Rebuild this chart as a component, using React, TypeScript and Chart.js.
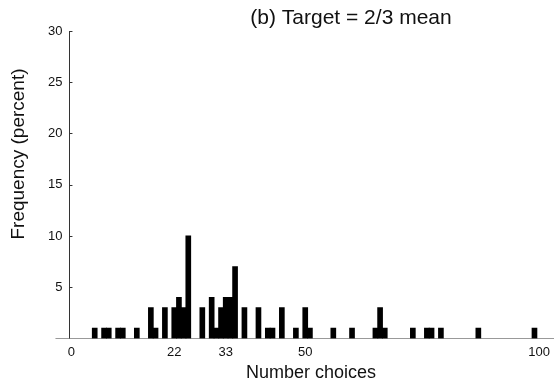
import React, { useEffect, useRef } from "react";
import { Chart, registerables } from "chart.js";

Chart.register(...registerables);

const choices = [5, 7, 8, 10, 11, 14, 17, 18, 20, 22, 23, 24, 25, 28, 30, 31, 32, 33, 34, 35, 37, 40, 42, 43, 45, 48, 50, 51, 56, 60, 65, 66, 67, 73, 76, 77, 79, 87, 99];
const frequencies = [1, 1, 1, 1, 1, 1, 3, 1, 3, 3, 4, 3, 10, 3, 4, 1, 3, 4, 4, 7, 3, 3, 1, 1, 3, 1, 3, 1, 1, 1, 1, 3, 1, 1, 1, 1, 1, 1, 1];
const xTickValues = [0, 22, 33, 50, 100];
const yTickValues = [0, 5, 10, 15, 20, 25, 30];
const titleText = "(b) Target = 2/3 mean";
const xTitleText = "Number choices";
const yTitleText = "Frequency (percent)";

const FONT = "'Liberation Sans', Arial, sans-serif";

const decorPlugin = {
  id: "decor",
  afterDraw(chart: any) {
    const { ctx, chartArea, scales } = chart;
    const y = scales.y;
    ctx.save();
    ctx.strokeStyle = "#333";
    ctx.lineWidth = 1;
    yTickValues.forEach((v) => {
      if (v === 0) return;
      const py = Math.round(y.getPixelForValue(v)) + 0.5;
      ctx.beginPath();
      ctx.moveTo(chartArea.left, py);
      ctx.lineTo(chartArea.left + 3, py);
      ctx.stroke();
    });
    ctx.strokeStyle = "#999";
    const by = Math.round(y.getPixelForValue(0)) + 0.5;
    ctx.beginPath();
    ctx.moveTo(chartArea.left - 14, by);
    ctx.lineTo(chartArea.left, by);
    ctx.stroke();

    ctx.fillStyle = "#111";
    ctx.textAlign = "center";
    ctx.textBaseline = "middle";
    ctx.font = `21px ${FONT}`;
    ctx.fillText(titleText, 351, 18);
    ctx.font = `18px ${FONT}`;
    ctx.fillText(xTitleText, 311, 373);
    ctx.save();
    ctx.translate(19, 154);
    ctx.rotate(-Math.PI / 2);
    ctx.font = `19px ${FONT}`;
    ctx.fillText(yTitleText, 0, 0);
    ctx.restore();
    ctx.restore();
  },
};

export default function App() {
  const ref = useRef<HTMLCanvasElement | null>(null);
  useEffect(() => {
    if (!ref.current) return;
    const chart = new Chart(ref.current, {
      type: "bar",
      data: {
        datasets: [
          {
            data: choices.map((c, i) => ({ x: c, y: frequencies[i] })),
            backgroundColor: "#000",
            borderWidth: 0,
            barThickness: 5,
          },
        ],
      },
      options: {
        animation: false,
        responsive: false,
        devicePixelRatio: 1,
        layout: { padding: { left: 41, top: 31, right: 0, bottom: 19 } },
        plugins: { legend: { display: false }, tooltip: { enabled: false }, title: { display: false } },
        scales: {
          x: {
            type: "linear",
            offset: false,
            min: -0.4,
            max: 103,
            afterBuildTicks: (s: any) => {
              s.ticks = xTickValues.map((v) => ({ value: v }));
            },
            grid: { display: false, drawTicks: false },
            border: { display: true, color: "#999", width: 1 },
            ticks: {
              autoSkip: false,
              maxRotation: 0,
              padding: 6,
              color: "#111",
              font: { family: FONT, size: 13 },
              callback: (v: any) => String(v),
            },
          },
          y: {
            min: 0,
            max: 30,
            afterBuildTicks: (s: any) => {
              s.ticks = yTickValues.map((v) => ({ value: v }));
            },
            grid: { display: false, drawTicks: false },
            border: { display: true, color: "#333", width: 1 },
            ticks: {
              padding: 7,
              color: "#111",
              font: { family: FONT, size: 13 },
              callback: (v: any) => (v === 0 ? "" : String(v)),
            },
          },
        },
      },
      plugins: [decorPlugin],
    });
    return () => chart.destroy();
  }, []);
  return (
    <div style={{ position: "fixed", left: 0, top: 0, width: 556, height: 385, background: "#fff" }}>
      <canvas ref={ref} width={556} height={385} style={{ width: 556, height: 385 }} />
    </div>
  );
}
